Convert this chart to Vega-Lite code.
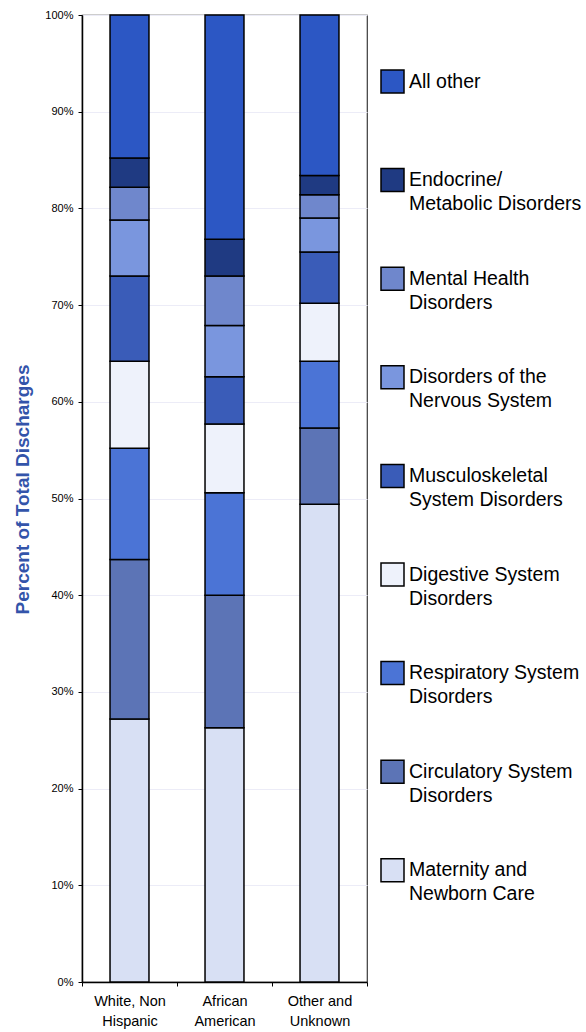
{
  "$schema": "https://vega.github.io/schema/vega-lite/v6.json",
  "width": 285,
  "height": 967,
  "autosize": {"type": "none"},
  "padding": {"left": 82, "top": 15, "right": 219, "bottom": 50},
  "background": "white",
  "config": {
    "view": {"stroke": "#3a3a3a", "strokeWidth": 1.2},
    "font": "Liberation Sans",
    "style": {"guide-label": {"lineHeight": 24}}
  },
  "data": {
    "values": [
      {"group": "White, Non Hispanic", "cause": "Maternity and Newborn Care", "pct": 27.2},
      {"group": "White, Non Hispanic", "cause": "Circulatory System Disorders", "pct": 16.5},
      {"group": "White, Non Hispanic", "cause": "Respiratory System Disorders", "pct": 11.5},
      {"group": "White, Non Hispanic", "cause": "Digestive System Disorders", "pct": 9.0},
      {"group": "White, Non Hispanic", "cause": "Musculoskeletal System Disorders", "pct": 8.8},
      {"group": "White, Non Hispanic", "cause": "Disorders of the Nervous System", "pct": 5.8},
      {"group": "White, Non Hispanic", "cause": "Mental Health Disorders", "pct": 3.4},
      {"group": "White, Non Hispanic", "cause": "Endocrine/ Metabolic Disorders", "pct": 3.0},
      {"group": "White, Non Hispanic", "cause": "All other", "pct": 14.8},
      {"group": "African American", "cause": "Maternity and Newborn Care", "pct": 26.3},
      {"group": "African American", "cause": "Circulatory System Disorders", "pct": 13.7},
      {"group": "African American", "cause": "Respiratory System Disorders", "pct": 10.6},
      {"group": "African American", "cause": "Digestive System Disorders", "pct": 7.1},
      {"group": "African American", "cause": "Musculoskeletal System Disorders", "pct": 4.9},
      {"group": "African American", "cause": "Disorders of the Nervous System", "pct": 5.3},
      {"group": "African American", "cause": "Mental Health Disorders", "pct": 5.1},
      {"group": "African American", "cause": "Endocrine/ Metabolic Disorders", "pct": 3.8},
      {"group": "African American", "cause": "All other", "pct": 23.2},
      {"group": "Other and Unknown", "cause": "Maternity and Newborn Care", "pct": 49.4},
      {"group": "Other and Unknown", "cause": "Circulatory System Disorders", "pct": 7.9},
      {"group": "Other and Unknown", "cause": "Respiratory System Disorders", "pct": 6.9},
      {"group": "Other and Unknown", "cause": "Digestive System Disorders", "pct": 6.0},
      {"group": "Other and Unknown", "cause": "Musculoskeletal System Disorders", "pct": 5.3},
      {"group": "Other and Unknown", "cause": "Disorders of the Nervous System", "pct": 3.5},
      {"group": "Other and Unknown", "cause": "Mental Health Disorders", "pct": 2.4},
      {"group": "Other and Unknown", "cause": "Endocrine/ Metabolic Disorders", "pct": 2.0},
      {"group": "Other and Unknown", "cause": "All other", "pct": 16.6}
    ]
  },
  "transform": [
    {"calculate": "indexof(['Maternity and Newborn Care','Circulatory System Disorders','Respiratory System Disorders','Digestive System Disorders','Musculoskeletal System Disorders','Disorders of the Nervous System','Mental Health Disorders','Endocrine/ Metabolic Disorders','All other'], datum.cause)", "as": "ord"}
  ],
  "mark": {"type": "bar", "width": {"band": 0.41}, "stroke": "black", "strokeWidth": 1.5, "opacity": 1},
  "encoding": {
    "x": {
      "field": "group",
      "type": "nominal",
      "sort": ["White, Non Hispanic", "African American", "Other and Unknown"],
      "scale": {"paddingInner": 0, "paddingOuter": 0},
      "axis": {
        "title": null,
        "labelAngle": 0,
        "labelFontSize": 14.5,
        "labelLineHeight": 20,
        "labelColor": "black",
        "labelPadding": 8,
        "labelExpr": "{'White, Non Hispanic': ['White, Non', 'Hispanic'], 'African American': ['African', 'American'], 'Other and Unknown': ['Other and', 'Unknown']}[datum.label]",
        "tickBand": "extent",
        "tickSize": 4,
        "tickColor": "black",
        "domainColor": "black",
        "domainWidth": 1.5
      }
    },
    "y": {
      "field": "pct",
      "type": "quantitative",
      "stack": "zero",
      "scale": {"domain": [0, 100], "nice": false},
      "axis": {
        "values": [0, 10, 20, 30, 40, 50, 60, 70, 80, 90, 100],
        "labelExpr": "datum.value + '%'",
        "labelFontSize": 11,
        "labelColor": "black",
        "labelPadding": 5,
        "tickSize": 4,
        "tickColor": "black",
        "domainColor": "black",
        "domainWidth": 1.5,
        "grid": true,
        "gridColor": "#ECECF7",
        "gridWidth": 1,
        "title": "Percent of Total Discharges",
        "titleFontSize": 19,
        "titleFontWeight": "bold",
        "titleColor": "#3354AA",
        "titleX": -50,
        "titleY": 474
      }
    },
    "color": {
      "field": "cause",
      "type": "nominal",
      "scale": {
        "domain": ["All other", "Endocrine/ Metabolic Disorders", "Mental Health Disorders", "Disorders of the Nervous System", "Musculoskeletal System Disorders", "Digestive System Disorders", "Respiratory System Disorders", "Circulatory System Disorders", "Maternity and Newborn Care"],
        "range": ["#2C57C4", "#1F3A82", "#6F87CC", "#7A96DE", "#3A5CB8", "#EEF2FB", "#4B74D6", "#5C74B6", "#D8E0F4"]
      },
      "legend": {
        "title": null,
        "orient": "none",
        "legendX": 298,
        "legendY": 54,
        "padding": 0,
        "symbolType": "square",
        "symbolSize": 529,
        "symbolStrokeColor": "black",
        "symbolStrokeWidth": 1.5,
        "symbolOpacity": 1,
        "labelFontSize": 19.5,
        "labelColor": "black",
        "labelLimit": 300,
        "labelOffset": 4,
        "rowPadding": 50.6,
        "labelExpr": "{'All other': ['All other', ' '], 'Endocrine/ Metabolic Disorders': ['Endocrine/', 'Metabolic Disorders'], 'Mental Health Disorders': ['Mental Health', 'Disorders'], 'Disorders of the Nervous System': ['Disorders of the', 'Nervous System'], 'Musculoskeletal System Disorders': ['Musculoskeletal', 'System Disorders'], 'Digestive System Disorders': ['Digestive System', 'Disorders'], 'Respiratory System Disorders': ['Respiratory System', 'Disorders'], 'Circulatory System Disorders': ['Circulatory System', 'Disorders'], 'Maternity and Newborn Care': ['Maternity and', 'Newborn Care']}[datum.label]"
      }
    },
    "order": {"field": "ord", "type": "quantitative"}
  }
}
